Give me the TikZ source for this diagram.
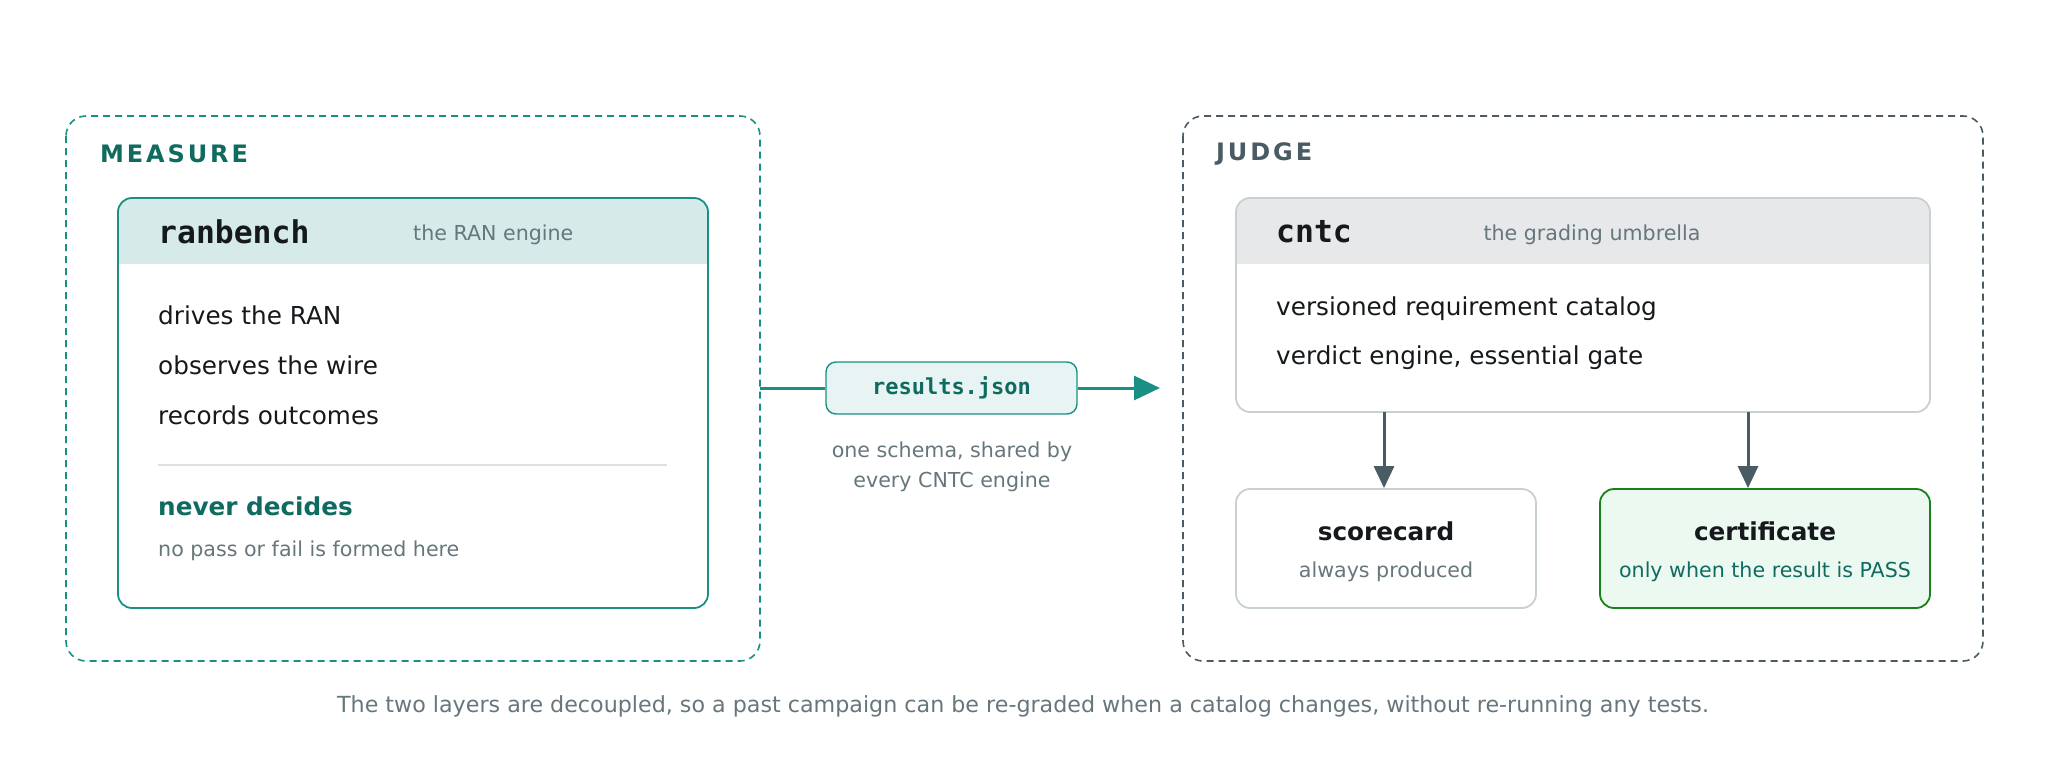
\documentclass[tikz,border=0pt]{standalone}
\usepackage{fontspec}
\setmainfont{DejaVu Sans}
\setmonofont{DejaVu Sans Mono}
\usetikzlibrary{arrows.meta,positioning,calc}
\definecolor{teal1}{HTML}{1A9084}
\definecolor{teal2}{HTML}{0F6B60}
\definecolor{slate}{HTML}{4A5B63}
\definecolor{greyt}{HTML}{66767C}
\definecolor{ink}{HTML}{15191B}
\definecolor{lgrey}{HTML}{C8D0D0}
\tikzset{
  zone/.style={draw, dashed, line width=1.6pt, rounded corners=20pt, dash pattern=on 7pt off 5pt},
  card/.style={draw, line width=1.8pt, rounded corners=14pt},
  body/.style={anchor=west, inner sep=0pt, font=\fontsize{24.7}{28}\selectfont, text=ink},
  small/.style={inner sep=0pt, font=\fontsize{20.6}{24}\selectfont, text=greyt},
  title/.style={anchor=west, inner sep=0pt, font=\fontsize{31.4}{34}\selectfont\ttfamily\bfseries, text=ink},
  zlabel/.style={anchor=west, inner sep=0pt, font=\fontsize{24}{26}\selectfont\bfseries\addfontfeatures{LetterSpace=12}},
  flow/.style={line width=3pt, -{Triangle[length=26pt,width=24pt]}},
  down/.style={line width=3pt, slate, -{Triangle[length=22pt,width=20pt]}}
}
\begin{document}
\begin{tikzpicture}[x=1pt,y=-1pt]
  \useasboundingbox (0,0) rectangle (2048,776);
  % measure side
  \draw [zone, teal1] (66,116) rectangle (760,661);
  \node [zlabel, text=teal2] (mlabel) at (100,154) {MEASURE};
  \begin{scope}
    \clip [rounded corners=14pt] (118,198) rectangle (708,608);
    \fill [teal1!18] (118,198) rectangle (708,264);
  \end{scope}
  \draw [card, teal1] (118,198) rectangle (708,608);
  \node [title] (rb) at (158,232) {ranbench};
  \node [small, anchor=west] (rbsub) at (413,235) {the RAN engine};
  \node [body] (m1) at (158,315) {drives the RAN};
  \node [body] (m2) at (158,365) {observes the wire};
  \node [body] (m3) at (158,415) {records outcomes};
  \draw [line width=1.5pt, black!12] (158,465) -- (667,465);
  \node [body, font=\fontsize{24.7}{28}\selectfont\bfseries, text=teal2] (never) at (158,506) {never decides};
  \node [small, anchor=west] (nopass) at (158,551) {no pass or fail is formed here};
  % hand-over
  \node [draw=teal1, line width=1.4pt, fill=teal1!10, rounded corners=10pt, minimum width=251pt, minimum height=52pt,
         font=\fontsize{22}{26}\selectfont\ttfamily\bfseries, text=teal2] (res) at (951.5,388) {results.json};
  \coordinate (mout) at (760,388);
  \coordinate (jin) at (1160,388);
  \draw [line width=3pt, teal1] (mout) -- (res.west);
  \draw [flow, teal1] (res.east) -- (jin);
  \node [small] (sch1) at (952,452) {one schema, shared by};
  \node [small] (sch2) at (952,482) {every CNTC engine};
  % judge side
  \draw [zone, slate] (1183,116) rectangle (1983,661);
  \node [zlabel, text=slate] (jlabel) at (1216,154) {JUDGE};
  \begin{scope}
    \clip [rounded corners=14pt] (1236,198) rectangle (1930,412);
    \fill [slate!14] (1236,198) rectangle (1930,264);
  \end{scope}
  \draw [card, lgrey] (1236,198) rectangle (1930,412);
  \node [title] (cn) at (1276,232) {cntc};
  \node [small] (cnsub) at (1592,235) {the grading umbrella};
  \node [body] (j1) at (1276,309) {versioned requirement catalog};
  \node [body] (j2) at (1276,358) {verdict engine, essential gate};
  \node [card, lgrey, minimum width=300pt, minimum height=119pt] (score) at (1386,548.5) {};
  \node [card, draw=green!45!black!90, fill=green!40!teal!8, minimum width=330pt, minimum height=119pt] (cert) at (1765,548.5) {};
  \node [inner sep=0pt, font=\fontsize{24.7}{28}\selectfont\bfseries, text=ink] (sc1) at (1386,531) {scorecard};
  \node [small] (sc2) at (1386,572) {always produced};
  \node [inner sep=0pt, font=\fontsize{24.7}{28}\selectfont\bfseries, text=ink] (ce1) at (1765,531) {certificate};
  \node [small, text=teal2] (ce2) at (1765,572) {only when the result is PASS};
  \draw [down] (1384,412) -- (score.north -| 1384,0);
  \draw [down] (1748,412) -- (cert.north -| 1748,0);
  % footnote
  \node [small, font=\fontsize{22.2}{26}\selectfont] (foot) at (1023,706) {The two layers are decoupled, so a past campaign can be re-graded when a catalog changes, without re-running any tests.};
\end{tikzpicture}
\end{document}
